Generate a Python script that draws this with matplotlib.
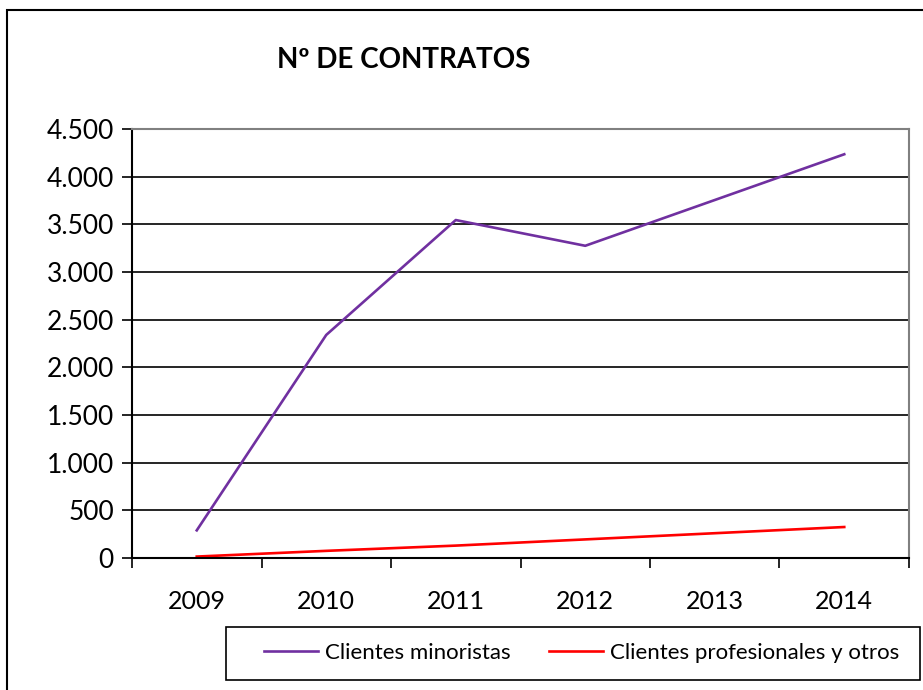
import matplotlib.pyplot as plt
from matplotlib.patches import Rectangle

anios = ['2009', '2010', '2011', '2012', '2013', '2014']
minoristas = [290, 2340, 3545, 3275, 3755, 4235]
profesionales = [15, 75, 130, 195, 260, 325]
yticks = [0, 500, 1000, 1500, 2000, 2500, 3000, 3500, 4000, 4500]

plt.rcParams['font.family'] = ['Lato', 'DejaVu Sans']

fig = plt.figure(figsize=(9.23, 6.9), dpi=100)
W, H = 923, 690

# marco exterior del gráfico
fig.patches.append(Rectangle((7 / W, -0.05), 1, 1.05 - 10 / H, transform=fig.transFigure,
                             fill=False, edgecolor='black', linewidth=1.5))
# marco de la leyenda
fig.patches.append(Rectangle((226 / W, 1 - 680 / H), (920 - 226) / W, 53 / H,
                             transform=fig.transFigure, fill=False,
                             edgecolor='black', linewidth=1.2))

ax = fig.add_axes([132 / W, 1 - 558 / H, (909 - 132) / W, (558 - 129) / H])
x = list(range(len(anios)))
ax.plot(x, minoristas, color='#7030A0', linewidth=1.9, label='Clientes minoristas')
ax.plot(x, profesionales, color='#FF0000', linewidth=1.9, label='Clientes profesionales y otros')

ax.set_xlim(-0.5, len(anios) - 0.5)
ax.set_ylim(0, 4500)
ax.set_yticks(yticks)
ax.set_yticklabels([f'{v:,}'.replace(',', '.') for v in yticks], fontsize=19)
ax.set_xticks(x)
ax.set_xticklabels(anios, fontsize=18)
ax.set_xticks([i - 0.5 for i in range(len(anios) + 1)], minor=True)
ax.tick_params(axis='x', which='major', length=0, pad=23)
ax.tick_params(axis='x', which='minor', length=7, width=1.2, direction='out')
ax.tick_params(axis='y', length=7, width=1.2, direction='out', pad=6)
ax.grid(axis='y', color='black', linewidth=1.2)
ax.set_axisbelow(True)

for s in ['top', 'right']:
    ax.spines[s].set_color('#808080')
    ax.spines[s].set_linewidth(1.5)
for s in ['left', 'bottom']:
    ax.spines[s].set_color('black')
    ax.spines[s].set_linewidth(1.5)

fig.text(404 / W, 1 - 60 / H, 'Nº DE CONTRATOS', fontsize=20, fontweight='bold',
         ha='center', va='center')

fig.legend(loc='center left', ncol=2, fontsize=16, frameon=False,
           bbox_to_anchor=(264 / W, 1 - 653 / H), handlelength=2.45,
           handletextpad=0.3, columnspacing=1.7, borderpad=0, borderaxespad=0)

fig.savefig('out.png', dpi=100)
